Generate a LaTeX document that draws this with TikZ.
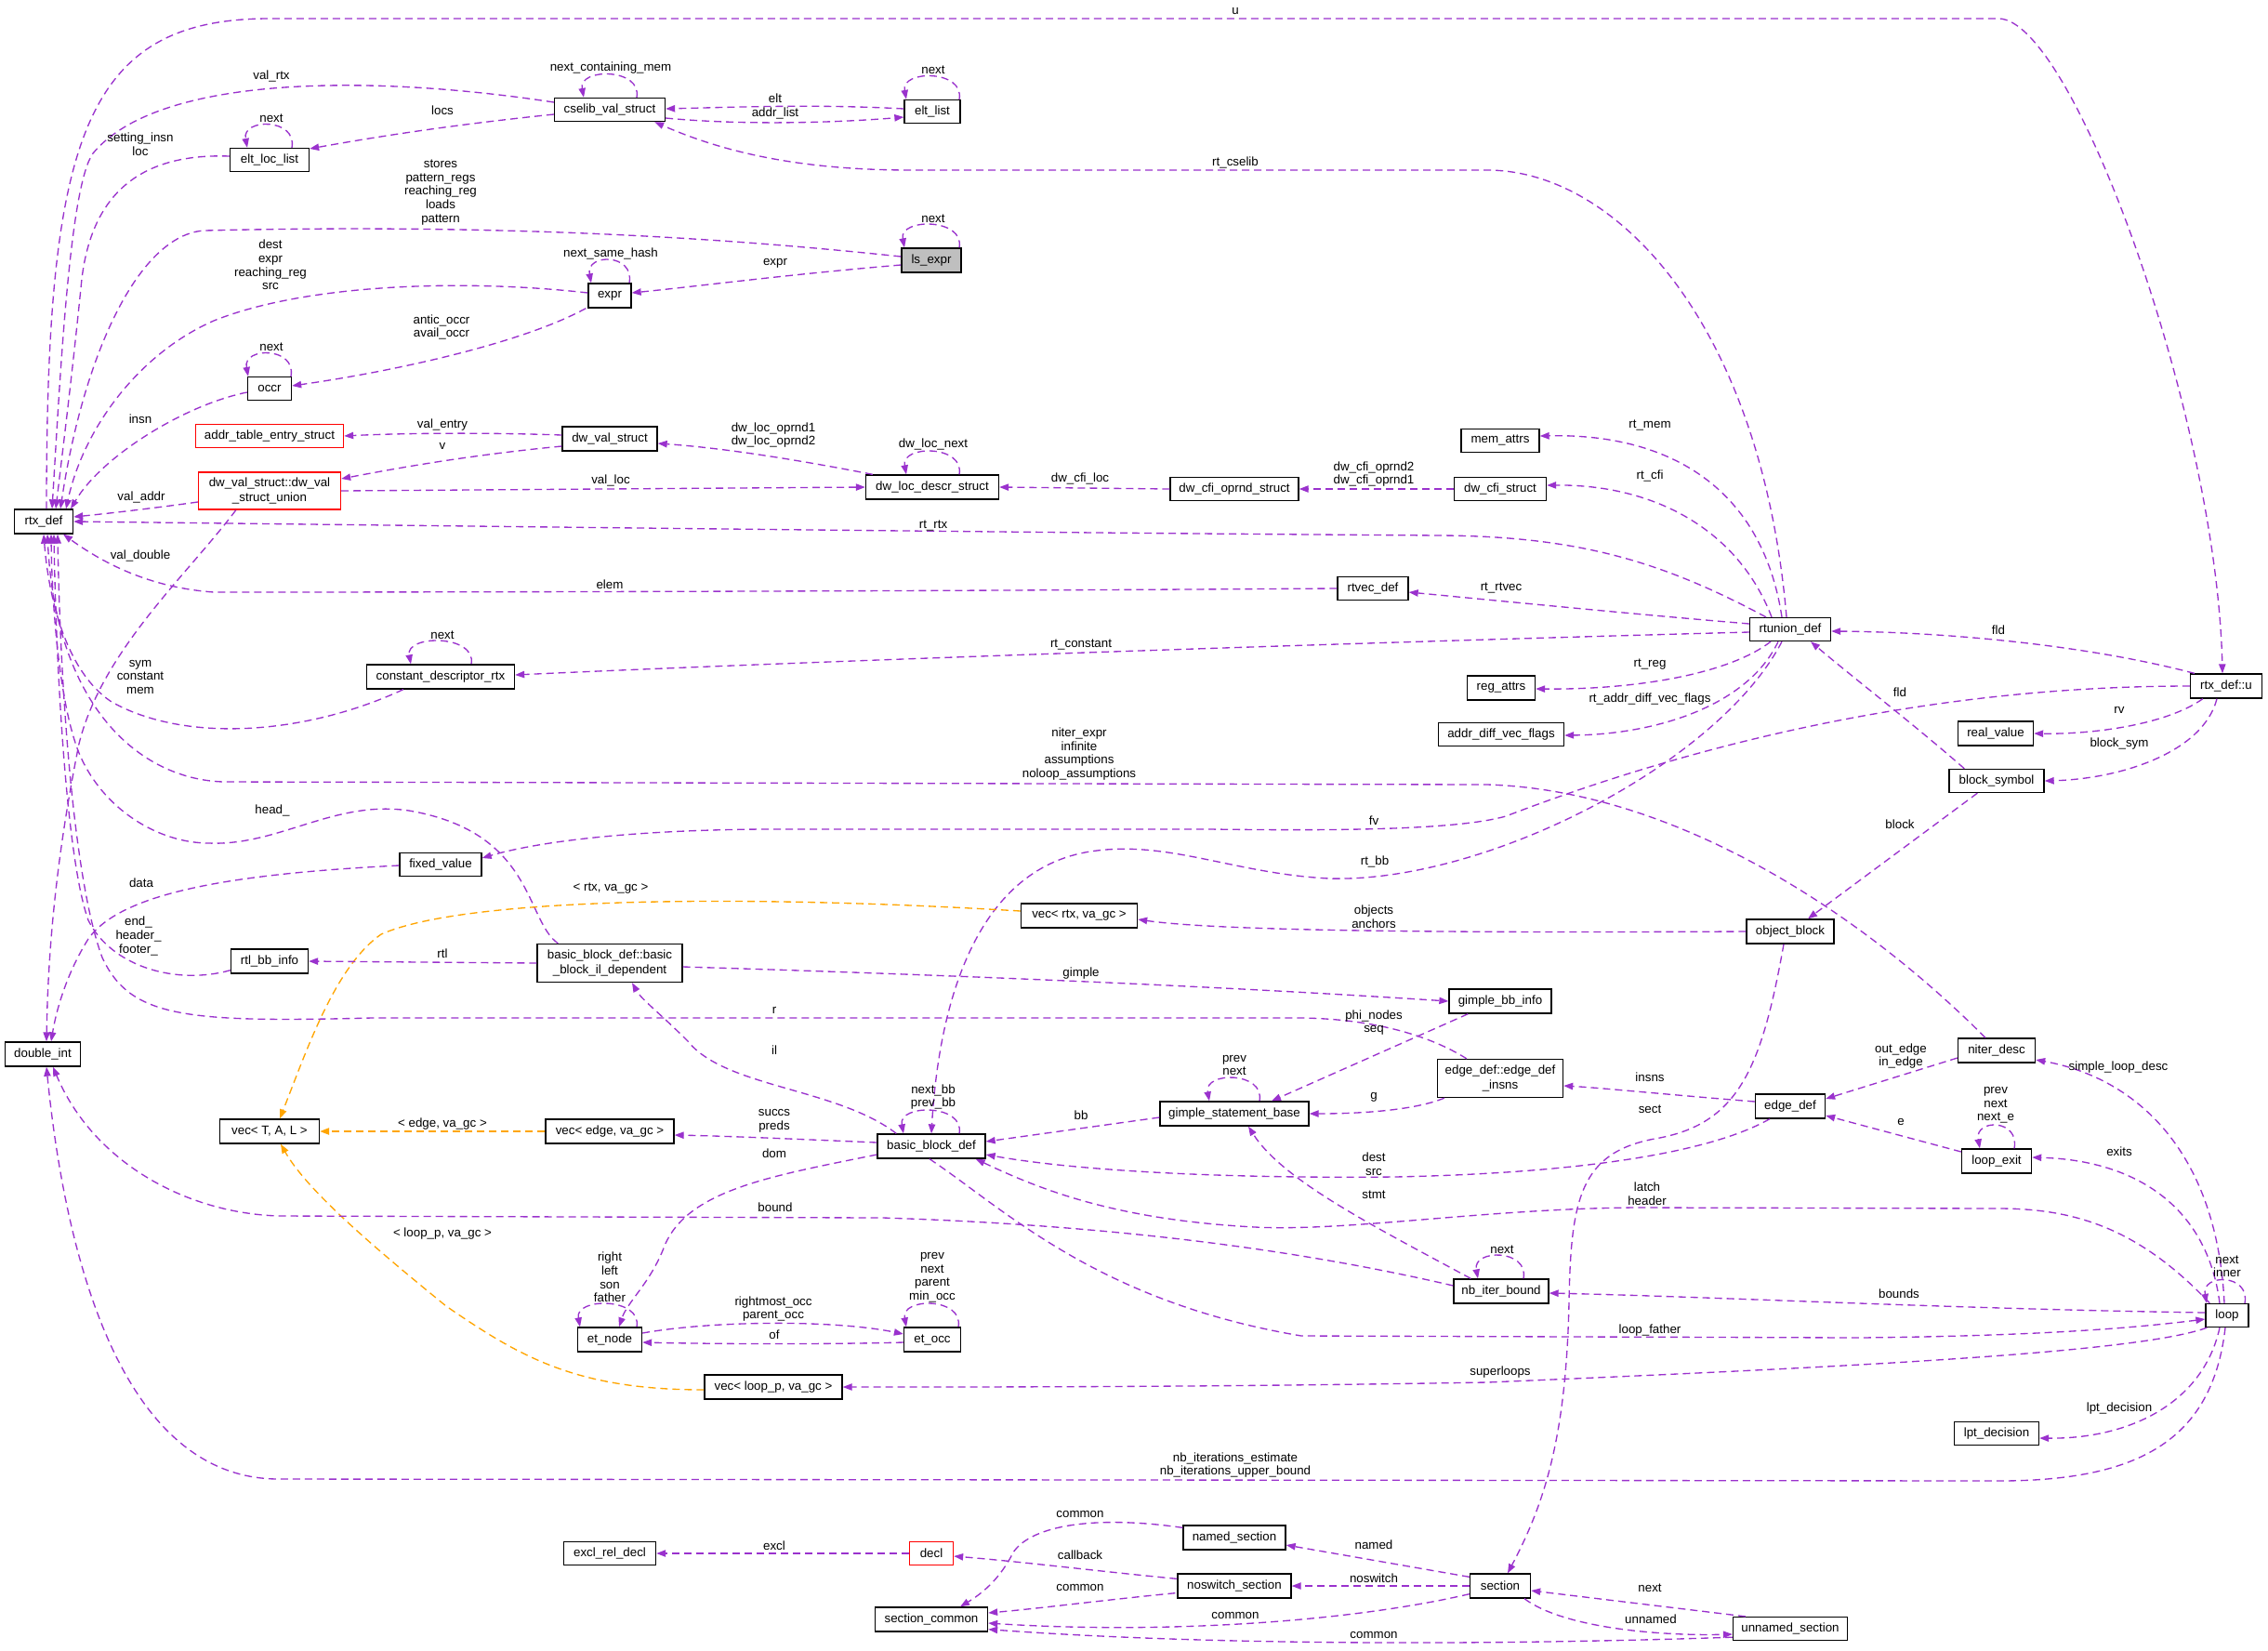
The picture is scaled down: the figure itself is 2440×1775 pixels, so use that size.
\documentclass[tikz,border=0pt]{standalone}
\usepackage{fontspec}
\setmainfont{Liberation Sans}
\usetikzlibrary{arrows.meta,calc}
\definecolor{epurple}{HTML}{9A32CD}
\definecolor{eorange}{HTML}{FFA500}
\definecolor{boxgray}{HTML}{BFBFBF}
\newcommand{\myloop}[3]{\draw[pe] ($(#1.north)+(#2,0)$) .. controls +(6,-32) and +(-6,-32) .. ($(#1.north)+(-#3,0)$);}
\begin{document}
\begin{tikzpicture}[x=0.75pt,y=-0.75pt,
  box/.style={draw=black,line width=1pt,inner sep=0pt,align=center,font=\fontsize{10}{11.3}\selectfont},
  redbox/.style={box,draw=red},
  bw/.style={minimum width=#1*0.75pt},
  bh/.style={minimum height=#1*0.75pt},
  lab/.style={inner sep=0pt,align=center,font=\fontsize{10}{10.9}\selectfont},
  pe/.style={draw=epurple,line width=1pt,dash pattern=on 6pt off 3.75pt,-{Triangle[length=7.5pt,width=5.5pt]}},
  oe/.style={pe,draw=eorange},
]
\fill[white] (0,0) rectangle (2440,1775);
\useasboundingbox (0,0) rectangle (2440,1775);

% ---------------- nodes ----------------
\node[box,bw=119,bh=25] (cselib) at (656,118) {cselib\_val\_struct};
\node[box,bw=85,bh=25] (eltloc) at (290,172) {elt\_loc\_list};
\node[box,bw=46,bh=26] (expr) at (656,318) {expr};
\node[box,bw=47,bh=25] (occr) at (290,418) {occr};
\node[redbox,bw=159,bh=25] (addrtab) at (290,469) {addr\_table\_entry\_struct};
\node[box,bw=102,bh=26] (dwval) at (656,472) {dw\_val\_struct};
\node[redbox,bw=153,bh=40] (dwunion) at (290,528) {dw\_val\_struct::dw\_val\\\_struct\_union};
\node[box,bw=63,bh=26] (rtx) at (47,561) {rtx\_def};
\node[box,bw=60,bh=25] (eltlist) at (1003,120) {elt\_list};
\node[box,bw=64,bh=26,fill=boxgray] (lsexpr) at (1002,280) {ls\_expr};
\node[box,bw=143,bh=26] (dwloc) at (1003,524) {dw\_loc\_descr\_struct};
\node[box,bw=138,bh=25] (dwcfiop) at (1328,526) {dw\_cfi\_oprnd\_struct};
\node[box,bw=84,bh=25] (memattrs) at (1614,474) {mem\_attrs};
\node[box,bw=99,bh=25] (dwcfi) at (1614,526) {dw\_cfi\_struct};
\node[box,bw=76,bh=25] (rtvec) at (1477,633) {rtvec\_def};
\node[box,bw=87,bh=25] (rtunion) at (1926,677) {rtunion\_def};
\node[box,bw=159,bh=26] (constdesc) at (474,728) {constant\_descriptor\_rtx};
\node[box,bw=73,bh=26] (regattrs) at (1615,740) {reg\_attrs};
\node[box,bw=135,bh=25] (addrdiff) at (1615,790) {addr\_diff\_vec\_flags};
\node[box,bw=77,bh=26] (rtxu) at (2395,738) {rtx\_def::u};
\node[box,bw=81,bh=26] (realval) at (2147,789) {real\_value};
\node[box,bw=102,bh=25] (blocksym) at (2148,840) {block\_symbol};
\node[box,bw=88,bh=25] (fixedval) at (474,930) {fixed\_value};
\node[box,bw=125,bh=26] (vecrtx) at (1161,985) {vec\textless{} rtx, va\_gc \textgreater};
\node[box,bw=94,bh=26] (objblock) at (1926,1002) {object\_block};
\node[box,bw=83,bh=26] (rtlbb) at (290,1034) {rtl\_bb\_info};
\node[box,bw=156,bh=41] (bbil) at (656,1036) {basic\_block\_def::basic\\\_block\_il\_dependent};
\node[box,bw=110,bh=26] (gimplebb) at (1614,1077) {gimple\_bb\_info};
\node[box,bw=83,bh=26] (niter) at (2148,1130) {niter\_desc};
\node[box,bw=81,bh=26] (doubleint) at (46,1134) {double\_int};
\node[box,bw=135,bh=41] (edgeinsns) at (1614,1160) {edge\_def::edge\_def\\\_insns};
\node[box,bw=75,bh=26] (edgedef) at (1926,1190) {edge\_def};
\node[box,bw=160,bh=26] (gimplestmt) at (1328,1198) {gimple\_statement\_base};
\node[box,bw=107,bh=26] (vectal) at (290,1217) {vec\textless{} T, A, L \textgreater};
\node[box,bw=138,bh=26] (vecedge) at (656,1217) {vec\textless{} edge, va\_gc \textgreater};
\node[box,bw=116,bh=26] (bbdef) at (1002,1233) {basic\_block\_def};
\node[box,bw=75,bh=26] (loopexit) at (2148,1249) {loop\_exit};
\node[box,bw=102,bh=26] (nbiter) at (1615,1389) {nb\_iter\_bound};
\node[box,bw=46,bh=25] (loop) at (2396,1415) {loop};
\node[box,bw=69,bh=26] (etnode) at (656,1441) {et\_node};
\node[box,bw=61,bh=26] (etocc) at (1003,1441) {et\_occ};
\node[box,bw=148,bh=26] (vecloop) at (832,1492) {vec\textless{} loop\_p, va\_gc \textgreater};
\node[box,bw=91,bh=25] (lpt) at (2148,1542) {lpt\_decision};
\node[box,bw=110,bh=26] (named) at (1328,1654) {named\_section};
\node[box,bw=99,bh=25] (excl) at (656,1671) {excl\_rel\_decl};
\node[redbox,bw=47,bh=25] (decl) at (1002,1671) {decl};
\node[box,bw=122,bh=26] (noswitch) at (1328,1706) {noswitch\_section};
\node[box,bw=65,bh=26] (section) at (1614,1706) {section};
\node[box,bw=121,bh=26] (seccommon) at (1002,1742) {section\_common};
\node[box,bw=123,bh=25] (unnamed) at (1926,1752) {unnamed\_section};

% ---------------- edges into rtx_def (top) ----------------
\draw[pe] ($(rtx.north)+(3,0)$) .. controls (50,150) and (90,20) .. (290,20) -- (2150,20) .. controls (2230,20) and (2385,450) .. ($(rtxu.north)+(-4,0)$);
\draw[pe] ($(cselib.west)+(0,-8)$) .. controls (400,80) and (170,80) .. (100,165) .. controls (75,200) and (65,400) .. ($(rtx.north)+(9,0)$);
\draw[pe] ($(eltloc.west)+(0,-4)$) .. controls (160,165) and (100,200) .. (88,300) .. controls (78,400) and (68,480) .. ($(rtx.north)+(13,0)$);
\draw[pe] ($(lsexpr.west)+(0,-4)$) .. controls (800,258) and (560,240) .. (220,248) .. controls (150,252) and (90,380) .. ($(rtx.north)+(18,0)$);
\draw[pe] ($(expr.west)+(0,-3)$) .. controls (500,300) and (330,305) .. (230,345) .. controls (150,380) and (90,460) .. ($(rtx.north)+(24,0)$);
\draw[pe] ($(occr.west)+(0,4)$) .. controls (200,435) and (110,490) .. ($(rtx.north)+(29,0)$);
% right side of rtx_def
\draw[pe] ($(dwunion.west)+(0,12)$) .. controls (170,546) and (120,552) .. ($(rtx.east)+(0,-5)$);
\draw[pe] ($(rtunion.north)+(-26,0)$) .. controls (1790,605) and (1700,577) .. (1550,576) .. controls (1100,573) and (500,566) .. (rtx.east);
% bottom of rtx_def
\draw[pe] (rtvec.west) .. controls (1000,636) and (500,637) .. (230,637) .. controls (160,632) and (110,605) .. ($(rtx.south)+(21,0)$);
\draw[pe] ($(constdesc.south west)+(40,0)$) .. controls (330,790) and (200,800) .. (120,755) .. controls (70,722) and (52,640) .. ($(rtx.south)+(0,0)$);
\draw[pe] ($(niter.north)+(-12,0)$) .. controls (2000,980) and (1800,850) .. (1600,844) -- (240,841) .. controls (150,838) and (60,760) .. ($(rtx.south)+(4,0)$);
\draw[pe] ($(bbil.north west)+(23,0)$) .. controls (565,990) and (575,895) .. (440,872) .. controls (360,860) and (300,910) .. (225,907) .. controls (170,907) and (110,870) .. (85,810) .. controls (65,760) and (56,660) .. ($(rtx.south)+(8,0)$);
\draw[pe] ($(rtlbb.south west)+(0,-4)$) .. controls (190,1060) and (120,1040) .. (95,990) .. controls (70,920) and (60,700) .. ($(rtx.south)+(11,0)$);
\draw[pe] ($(edgeinsns.north west)+(32,0)$) .. controls (1540,1115) and (1480,1096) .. (1400,1095) -- (400,1095) .. controls (200,1100) and (140,1095) .. (110,1030) .. controls (80,950) and (65,750) .. ($(rtx.south)+(15,0)$);

% ---------------- upper part ----------------
\myloop{cselib}{29}{28}
\myloop{eltloc}{24}{24}
\myloop{eltlist}{29}{28}
\myloop{lsexpr}{30}{29}
\myloop{expr}{21}{20}
\myloop{occr}{23}{23}
\myloop{dwloc}{29}{28}
\myloop{constdesc}{33}{32}
\draw[pe] ($(cselib.west)+(0,5)$) .. controls (480,135) and (400,148) .. ($(eltloc.east)+(0,-12)$);
\draw[pe] ($(eltlist.west)+(0,-3)$) .. controls (880,112) and (800,115) .. ($(cselib.east)+(0,-1)$);
\draw[pe] ($(cselib.east)+(0,9)$) .. controls (800,135) and (900,132) .. ($(eltlist.west)+(0,6)$);
\draw[pe] ($(rtunion.north)+(-4,0)$) .. controls (1895,350) and (1740,183) .. (1600,183) -- (980,183) .. controls (850,183) and (770,160) .. ($(cselib.south east)+(-12,0)$);
\draw[pe] ($(lsexpr.west)+(0,5)$) .. controls (850,295) and (750,308) .. ($(expr.east)+(0,-3)$);
\draw[pe] ($(expr.south west)+(-2,0)$) .. controls (560,370) and (420,400) .. ($(occr.east)+(0,-3)$);
\draw[pe] ($(dwval.west)+(0,-4)$) .. controls (520,465) and (430,466) .. (addrtab.east);
\draw[pe] ($(dwval.west)+(0,8)$) .. controls (500,490) and (420,505) .. ($(dwunion.east)+(0,-13)$);
\draw[pe] ($(dwloc.north west)+(8,0)$) .. controls (860,495) and (780,482) .. ($(dwval.east)+(0,5)$);
\draw[pe] (dwunion.east) -- (dwloc.west);
\draw[pe] ($(dwunion.south west)+(41,0)$) .. controls (200,620) and (110,700) .. (85,800) .. controls (65,900) and (52,1000) .. ($(doubleint.north)+(4,0)$);
\draw[pe] (dwcfiop.west) -- (dwloc.east);
\draw[pe] (dwcfi.west) -- (dwcfiop.east);
\draw[pe] ($(rtunion.north)+(-9,0)$) .. controls (1895,520) and (1790,466) .. ($(memattrs.east)+(0,-5)$);
\draw[pe] ($(rtunion.north)+(-20,0)$) .. controls (1870,570) and (1780,521) .. ($(dwcfi.east)+(0,-4)$);
\draw[pe] ($(rtunion.west)+(0,-6)$) .. controls (1750,660) and (1600,645) .. ($(rtvec.east)+(0,4)$);
\draw[pe] ($(rtunion.west)+(0,3)$) .. controls (1500,690) and (900,710) .. ($(constdesc.east)+(0,-2)$);
\draw[pe] ($(rtunion.south)+(-21,0)$) .. controls (1860,725) and (1760,742) .. ($(regattrs.east)+(0,1)$);
\draw[pe] ($(rtunion.south)+(-13,0)$) .. controls (1880,760) and (1780,790) .. ($(addrdiff.east)+(0,1)$);
\draw[pe] ($(rtunion.south)+(-9,0)$) .. controls (1850,820) and (1600,950) .. (1430,945) .. controls (1330,940) and (1260,905) .. (1180,915) .. controls (1050,930) and (1010,1080) .. (bbdef.north);
\draw[pe] ($(rtxu.north west)+(5,0)$) .. controls (2250,695) and (2100,680) .. ($(rtunion.east)+(0,2)$);
\draw[pe] (rtxu.west) .. controls (2100,738) and (1850,790) .. (1620,878) .. controls (1560,895) and (1400,893) .. (1300,892) -- (820,892) .. controls (680,893) and (580,905) .. ($(fixedval.east)+(0,-7)$);
\draw[pe] ($(rtxu.south west)+(14,0)$) .. controls (2330,780) and (2250,790) .. (realval.east);
\draw[pe] ($(rtxu.south)+(-10,0)$) .. controls (2370,810) and (2280,838) .. (blocksym.east);
\draw[pe] ($(blocksym.north west)+(17,0)$) .. controls (2060,780) and (1995,730) .. ($(rtunion.south)+(22,0)$);
\draw[pe] ($(blocksym.south west)+(31,0)$) -- ($(objblock.north)+(19,0)$);
\draw[pe] (objblock.west) .. controls (1500,1004) and (1300,1000) .. ($(vecrtx.east)+(0,4)$);
\draw[oe] ($(vecrtx.west)+(0,-5)$) .. controls (800,962) and (500,965) .. (410,1005) .. controls (360,1040) and (330,1130) .. ($(vectal.north)+(11,0)$);
\draw[pe] ($(objblock.south)+(-7,0)$) .. controls (1895,1150) and (1870,1210) .. (1780,1225) .. controls (1700,1240) and (1690,1290) .. (1688,1400) .. controls (1685,1550) and (1660,1620) .. ($(section.north)+(8,0)$);

% ---------------- middle part ----------------
\draw[pe] (bbil.west) -- (rtlbb.east);
\draw[pe] ($(bbil.east)+(0,4)$) .. controls (1000,1048) and (1300,1060) .. (gimplebb.west);
\draw[pe] ($(fixedval.west)+(0,1)$) .. controls (250,940) and (130,960) .. (95,1010) .. controls (70,1050) and (60,1090) .. ($(doubleint.north)+(9,0)$);
\draw[pe] ($(bbdef.north west)+(21,0)$) .. controls (900,1170) and (780,1170) .. (740,1120) .. controls (710,1090) and (690,1075) .. ($(bbil.south)+(24,0)$);
\myloop{bbdef}{30}{30}
\draw[pe] ($(bbdef.west)+(0,-4)$) .. controls (850,1225) and (780,1222) .. ($(vecedge.east)+(0,4)$);
\draw[oe] (vecedge.west) -- (vectal.east);
\draw[pe] ($(bbdef.west)+(0,9)$) .. controls (830,1265) and (740,1280) .. (715,1340) .. controls (700,1380) and (675,1400) .. ($(etnode.north)+(10,0)$);
\myloop{etnode}{29}{32}
\myloop{etocc}{28}{28}
\draw[pe] ($(etnode.east)+(0,-7)$) .. controls (770,1420) and (900,1420) .. ($(etocc.west)+(0,-6)$);
\draw[pe] ($(etocc.west)+(0,3)$) .. controls (900,1446) and (780,1446) .. ($(etnode.east)+(0,3)$);
\draw[pe] ($(gimplebb.south west)+(21,0)$) -- ($(gimplestmt.north)+(40,0)$);
\myloop{gimplestmt}{27}{27}
\draw[pe] ($(gimplestmt.west)+(0,4)$) -- ($(bbdef.east)+(0,-5)$);
\draw[pe] ($(edgeinsns.south west)+(8,0)$) .. controls (1520,1195) and (1460,1198) .. (gimplestmt.east);
\draw[pe] ($(edgedef.west)+(0,-5)$) .. controls (1800,1178) and (1720,1170) .. ($(edgeinsns.east)+(0,8)$);
\draw[pe] ($(edgedef.south west)+(16,0)$) .. controls (1840,1240) and (1700,1262) .. (1500,1266) .. controls (1300,1268) and (1150,1258) .. ($(bbdef.east)+(0,9)$);
\draw[pe] ($(niter.west)+(0,8)$) -- ($(edgedef.east)+(0,-8)$);
\draw[pe] ($(loopexit.west)+(0,-10)$) -- ($(edgedef.east)+(0,10)$);
\myloop{loopexit}{19}{18}
\draw[pe] ($(loop.north)+(-8,0)$) .. controls (2375,1300) and (2300,1248) .. ($(loopexit.east)+(0,-4)$);
\draw[pe] ($(loop.north)+(-3,0)$) .. controls (2385,1240) and (2300,1160) .. ($(niter.east)+(0,10)$);
\draw[pe] ($(loop.north west)+(5,0)$) .. controls (2300,1320) and (2230,1300) .. (2150,1300) -- (1760,1299) .. controls (1600,1300) and (1450,1325) .. (1350,1320) .. controls (1200,1312) and (1120,1280) .. ($(bbdef.south east)+(-11,0)$);
\draw[pe] ($(bbdef.south)+(-2,0)$) .. controls (1080,1300) and (1180,1400) .. (1400,1437) -- (2000,1439) .. controls (2200,1437) and (2300,1428) .. ($(loop.west)+(0,4)$);
\draw[pe] ($(loop.west)+(0,-3)$) .. controls (2100,1408) and (1850,1395) .. ($(nbiter.east)+(0,2)$);
\myloop{loop}{19}{22}
\draw[pe] ($(loop.south west)+(2,0)$) .. controls (2300,1455) and (2000,1470) .. (1600,1487) .. controls (1300,1492) and (1100,1492) .. (vecloop.east);
\draw[oe] ($(vecloop.west)+(0,3)$) .. controls (620,1495) and (560,1460) .. (480,1405) .. controls (400,1340) and (330,1280) .. ($(vectal.south)+(12,0)$);
\draw[pe] ($(nbiter.west)+(0,-6)$) .. controls (1400,1345) and (1200,1318) .. (950,1310) -- (300,1308) .. controls (200,1305) and (100,1250) .. ($(doubleint.south)+(11,0)$);
\draw[pe] ($(loop.south)+(-2,0)$) .. controls (2380,1550) and (2300,1593) .. (2150,1593) -- (300,1591) .. controls (130,1591) and (70,1350) .. ($(doubleint.south)+(4,0)$);
\draw[pe] ($(loop.south)+(-8,0)$) .. controls (2370,1510) and (2290,1548) .. ($(lpt.east)+(0,5)$);
\myloop{nbiter}{24}{25}
\draw[pe] ($(nbiter.north west)+(19,0)$) .. controls (1480,1320) and (1380,1270) .. ($(gimplestmt.south)+(15,0)$);

% ---------------- bottom part ----------------
\draw[pe] (decl.west) -- (excl.east);
\draw[pe] ($(named.north west)+(0,3)$) .. controls (1180,1630) and (1110,1640) .. (1090,1670) .. controls (1075,1700) and (1055,1715) .. ($(seccommon.north)+(31,0)$);
\draw[pe] ($(noswitch.north west)+(0,6)$) .. controls (1180,1690) and (1100,1680) .. ($(decl.east)+(0,3)$);
\draw[pe] ($(noswitch.south west)+(-2,-6)$) .. controls (1180,1722) and (1120,1730) .. ($(seccommon.east)+(0,-7)$);
\draw[pe] ($(section.north west)+(0,4)$) -- ($(named.east)+(0,8)$);
\draw[pe] (section.west) -- (noswitch.east);
\draw[pe] ($(section.south west)+(0,-5)$) .. controls (1450,1745) and (1250,1758) .. ($(seccommon.east)+(0,4)$);
\draw[pe] ($(unnamed.south west)+(0,-4)$) .. controls (1600,1770) and (1300,1770) .. ($(seccommon.south east)+(0,-3)$);
\draw[pe] ($(unnamed.north west)+(14,0)$) -- ($(section.east)+(0,5)$);
\draw[pe] ($(section.south)+(26,0)$) .. controls (1680,1750) and (1780,1760) .. ($(unnamed.west)+(0,6)$);

% ---------------- labels ----------------
\node[lab] (l1) at (1329,12) {u};
\node[lab] (l2) at (292,82) {val\_rtx};
\node[lab] (l3) at (657,73) {next\_containing\_mem};
\node[lab] (l4) at (476,119) {locs};
\node[lab] (l5) at (292,127) {next};
\node[lab] (l6) at (151,155) {setting\_insn\\loc};
\node[lab] (l7) at (1004,75) {next};
\node[lab] (l8) at (834,106) {elt};
\node[lab] (l9) at (834,122) {addr\_list};
\node[lab] (l10) at (1329,175) {rt\_cselib};
\node[lab] (l11) at (474,207) {stores\\pattern\_regs\\reaching\_reg\\loads\\pattern};
\node[lab] (l12) at (1004,235) {next};
\node[lab] (l13) at (834,283) {expr};
\node[lab] (l14) at (291,285) {dest\\expr\\reaching\_reg\\src};
\node[lab] (l15) at (657,273) {next\_same\_hash};
\node[lab] (l16) at (475,352) {antic\_occr\\avail\_occr};
\node[lab] (l17) at (292,373) {next};
\node[lab] (l18) at (151,451) {insn};
\node[lab] (l19) at (476,457) {val\_entry};
\node[lab] (l20) at (476,480) {v};
\node[lab] (l21) at (832,468) {dw\_loc\_oprnd1\\dw\_loc\_oprnd2};
\node[lab] (l22) at (1004,478) {dw\_loc\_next};
\node[lab] (l23) at (1162,515) {dw\_cfi\_loc};
\node[lab] (l24) at (1478,510) {dw\_cfi\_oprnd2\\dw\_cfi\_oprnd1};
\node[lab] (l25) at (657,517) {val\_loc};
\node[lab] (l26) at (152,535) {val\_addr};
\node[lab] (l27) at (1775,458) {rt\_mem};
\node[lab] (l28) at (1775,512) {rt\_cfi};
\node[lab] (l29) at (1004,566) {rt\_rtx};
\node[lab] (l30) at (151,598) {val\_double};
\node[lab] (l31) at (656,629) {elem};
\node[lab] (l32) at (1615,632) {rt\_rtvec};
\node[lab] (l33) at (2150,678) {fld};
\node[lab] (l34) at (476,683) {next};
\node[lab] (l35) at (1163,693) {rt\_constant};
\node[lab] (l36) at (151,728) {sym\\constant\\mem};
\node[lab] (l37) at (1775,715) {rt\_reg};
\node[lab] (l38) at (2044,745) {fld};
\node[lab] (l39) at (1775,752) {rt\_addr\_diff\_vec\_flags};
\node[lab] (l40) at (2280,764) {rv};
\node[lab] (l41) at (2280,800) {block\_sym};
\node[lab] (l42) at (1161,811) {niter\_expr\\infinite\\assumptions\\noloop\_assumptions};
\node[lab] (l43) at (293,872) {head\_};
\node[lab] (l44) at (1478,883) {fv};
\node[lab] (l45) at (2044,887) {block};
\node[lab] (l46) at (1479,927) {rt\_bb};
\node[lab] (l47) at (152,950) {data};
\node[lab] (l48) at (657,956) {\textless{} rtx, va\_gc \textgreater};
\node[lab] (l49) at (1478,986) {objects\\anchors};
\node[lab] (l50) at (149,1007) {end\_\\header\_\\footer\_};
\node[lab] (l51) at (476,1026) {rtl};
\node[lab] (l52) at (1163,1047) {gimple};
\node[lab] (l53) at (833,1087) {r};
\node[lab] (l54) at (1478,1100) {phi\_nodes\\seq};
\node[lab] (l55) at (833,1130) {il};
\node[lab] (l56) at (2045,1136) {out\_edge\\in\_edge};
\node[lab] (l57) at (1328,1146) {prev\\next};
\node[lab] (l58) at (2279,1148) {simple\_loop\_desc};
\node[lab] (l59) at (1775,1159) {insns};
\node[lab] (l60) at (1004,1180) {next\_bb\\prev\_bb};
\node[lab] (l61) at (2147,1189) {prev\\next\\next\_e};
\node[lab] (l62) at (1478,1180) {g};
\node[lab] (l63) at (1775,1193) {sect};
\node[lab] (l64) at (833,1206) {succs\\preds};
\node[lab] (l65) at (1163,1200) {bb};
\node[lab] (l66) at (2045,1207) {e};
\node[lab] (l67) at (476,1209) {\textless{} edge, va\_gc \textgreater};
\node[lab] (l68) at (2280,1239) {exits};
\node[lab] (l69) at (833,1241) {dom};
\node[lab] (l70) at (1478,1252) {dest\\src};
\node[lab] (l71) at (1772,1284) {latch\\header};
\node[lab] (l72) at (1478,1285) {stmt};
\node[lab] (l73) at (834,1299) {bound};
\node[lab] (l74) at (476,1327) {\textless{} loop\_p, va\_gc \textgreater};
\node[lab] (l75) at (1616,1344) {next};
\node[lab] (l76) at (2396,1362) {next\\inner};
\node[lab] (l77) at (656,1374) {right\\left\\son\\father};
\node[lab] (l78) at (1003,1374) {prev\\next\\parent\\min\_occ};
\node[lab] (l79) at (2043,1392) {bounds};
\node[lab] (l80) at (832,1408) {rightmost\_occ\\parent\_occ};
\node[lab] (l81) at (1775,1431) {loop\_father};
\node[lab] (l82) at (833,1436) {of};
\node[lab] (l83) at (1614,1476) {superloops};
\node[lab] (l84) at (2280,1515) {lpt\_decision};
\node[lab] (l85) at (1329,1576) {nb\_iterations\_estimate\\nb\_iterations\_upper\_bound};
\node[lab] (l86) at (1162,1629) {common};
\node[lab] (l87) at (1478,1662) {named};
\node[lab] (l88) at (833,1663) {excl};
\node[lab] (l89) at (1162,1673) {callback};
\node[lab] (l90) at (1478,1698) {noswitch};
\node[lab] (l91) at (1162,1708) {common};
\node[lab] (l92) at (1775,1708) {next};
\node[lab] (l93) at (1329,1738) {common};
\node[lab] (l94) at (1776,1742) {unnamed};
\node[lab] (l95) at (1478,1759) {common};
\end{tikzpicture}
\end{document}
